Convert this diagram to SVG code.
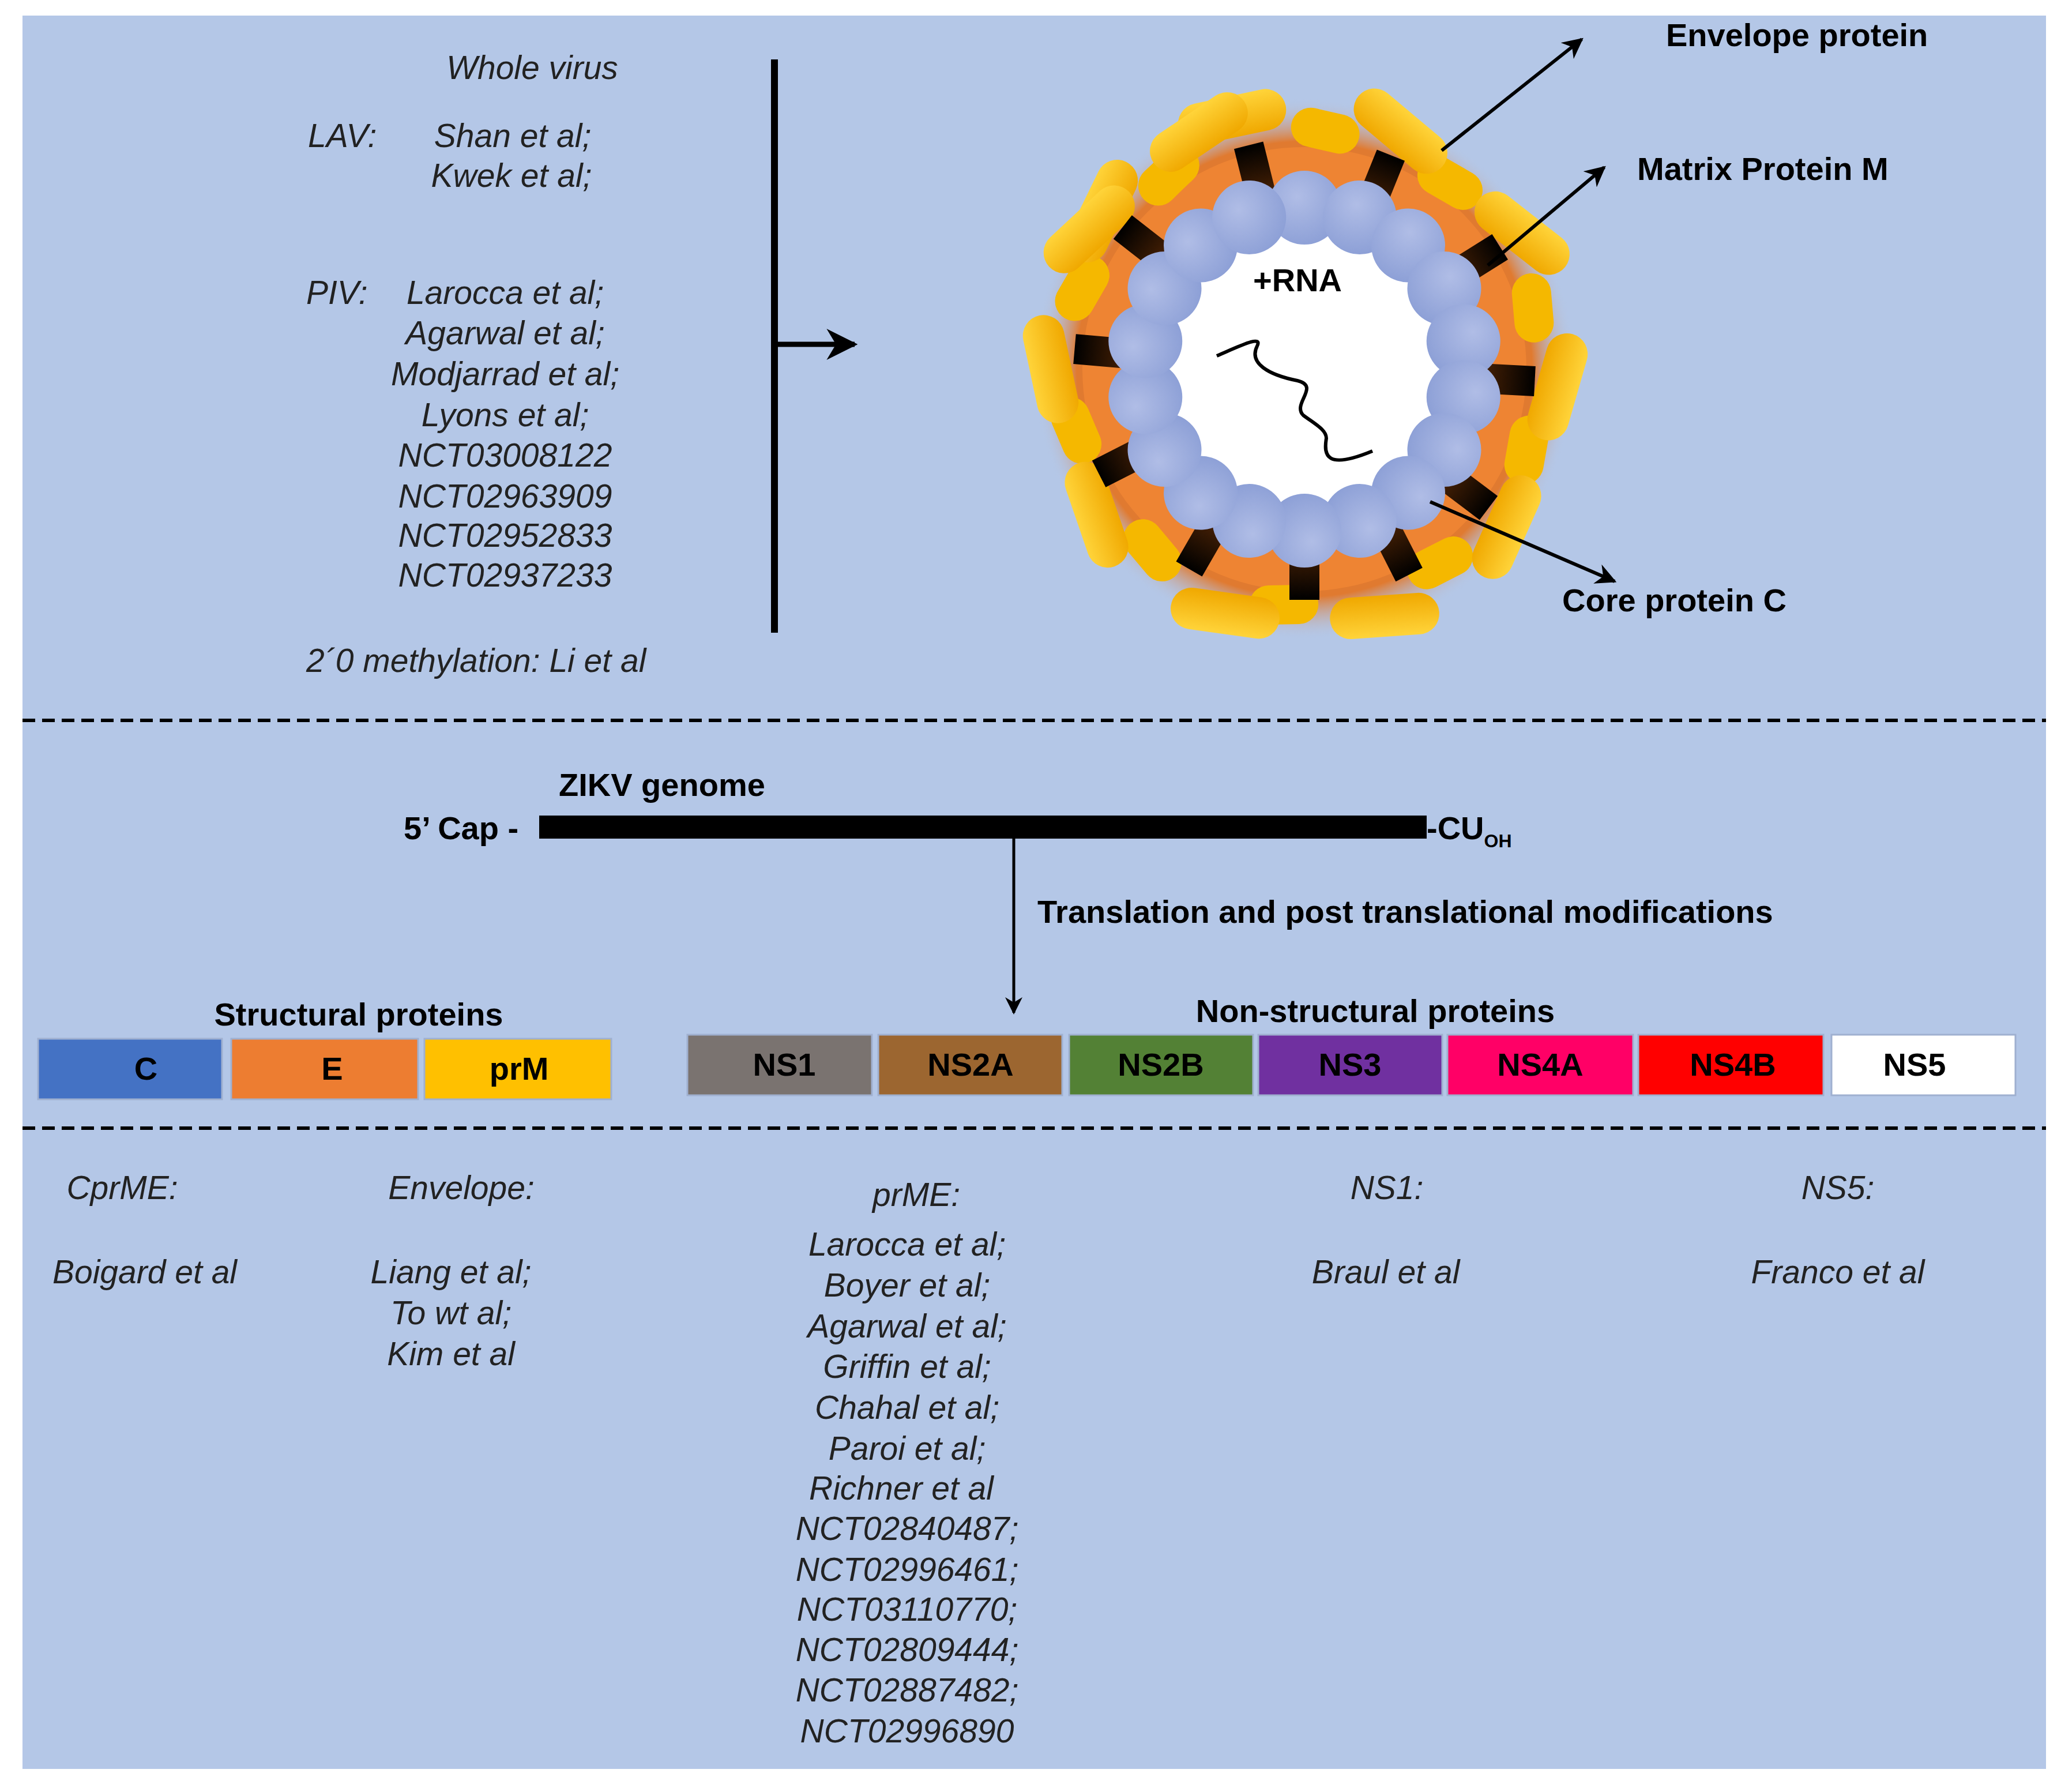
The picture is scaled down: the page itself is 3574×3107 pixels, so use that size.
<svg xmlns="http://www.w3.org/2000/svg" width="3574" height="3107" viewBox="0 0 3574 3107">
<defs>
<style>
.i{font-family:"Liberation Sans",Arial,sans-serif;font-style:italic;font-size:57px;fill:#222}
.b{font-family:"Liberation Sans",Arial,sans-serif;font-weight:bold;font-size:56px;fill:#000}
.m{text-anchor:middle}
.bx{stroke:#9fb0d0;stroke-width:3}
.dash{stroke:#000;stroke-width:6;stroke-dasharray:22 12}
</style>
<marker id="ah" viewBox="0 0 10 10" refX="9" refY="5" markerWidth="6" markerHeight="6" orient="auto"><path d="M0,0 L10,5 L0,10 L3,5 z" fill="#000"/></marker>
<radialGradient id="glow" cx="0.5" cy="0.5" r="0.5"><stop offset="0.84" stop-color="#e07a30"/><stop offset="1" stop-color="#b4c7e7" stop-opacity="0"/></radialGradient>
<radialGradient id="ball" cx="0.4" cy="0.35" r="0.7"><stop offset="0" stop-color="#b0bde6"/><stop offset="1" stop-color="#8c9fd6"/></radialGradient>
<linearGradient id="rod" x1="0" y1="0" x2="0" y2="1"><stop offset="0" stop-color="#ffd43a"/><stop offset="1" stop-color="#f0a800"/></linearGradient>
<linearGradient id="stub" x1="0" y1="0" x2="0" y2="1"><stop offset="0" stop-color="#000"/><stop offset="1" stop-color="#4a2205"/></linearGradient>
<g id="R"><rect x="-95" y="-36" width="190" height="72" rx="36" fill="url(#rod)"/></g>
<g id="r"><rect x="-60" y="-34" width="120" height="68" rx="34" fill="#f5b800"/></g>
<g id="S"><rect x="-26" y="-400" width="52" height="95" fill="url(#stub)"/></g>
<g id="B"><circle cx="0" cy="-280" r="64" fill="url(#ball)"/></g>
</defs>
<rect x="0" y="0" width="3574" height="3107" fill="#fff"/>
<rect x="39" y="27" width="3509" height="3040" fill="#b4c7e7"/>

<g id="dividers">
<line class="dash" x1="39" y1="1249" x2="3548" y2="1249"/>
<line class="dash" x1="39" y1="1956" x2="3548" y2="1956"/>
</g>

<g id="whole-virus-text">
<text class="i m" x="923" y="137">Whole virus</text>
<text class="i" x="534" y="255">LAV:</text>
<text class="i m" x="889" y="255">Shan et al;</text>
<text class="i m" x="887" y="324">Kwek et al;</text>
<text class="i" x="531" y="527">PIV:</text>
<text class="i m" x="876" y="527">Larocca et al;</text>
<text class="i m" x="876" y="597">Agarwal et al;</text>
<text class="i m" x="876" y="668">Modjarrad et al;</text>
<text class="i m" x="876" y="739">Lyons et al;</text>
<text class="i m" x="876" y="809">NCT03008122</text>
<text class="i m" x="876" y="880">NCT02963909</text>
<text class="i m" x="876" y="948">NCT02952833</text>
<text class="i m" x="876" y="1017">NCT02937233</text>
<text class="i" x="531" y="1165">2´0 methylation: Li et al</text>
</g>

<g id="virus">
<g transform="translate(2262,640)">
<circle r="470" fill="url(#glow)"/>
<circle r="385" fill="#ee8433"/>
<circle r="290" fill="#fff"/>
<use href="#r" transform="rotate(-70) translate(0,-410) rotate(10)"/>
<use href="#r" transform="rotate(-35) translate(0,-410) rotate(-10)"/>
<use href="#r" transform="rotate(5) translate(0,-415) rotate(8)"/>
<use href="#r" transform="rotate(38) translate(0,-410) rotate(-8)"/>
<use href="#r" transform="rotate(75) translate(0,-410) rotate(10)"/>
<use href="#r" transform="rotate(110) translate(0,-410) rotate(-10)"/>
<use href="#r" transform="rotate(145) translate(0,-410) rotate(8)"/>
<use href="#r" transform="rotate(185) translate(0,-410) rotate(-6)"/>
<use href="#r" transform="rotate(220) translate(0,-410) rotate(10)"/>
<use href="#r" transform="rotate(255) translate(0,-410) rotate(-8)"/>
<use href="#r" transform="rotate(290) translate(0,-410) rotate(10)"/>
<use href="#r" transform="rotate(325) translate(0,-410) rotate(-8)"/>
<use href="#R" transform="rotate(-52) translate(0,-445) rotate(-12)"/>
<use href="#R" transform="rotate(-16) translate(0,-455) rotate(4)"/>
<use href="#R" transform="rotate(22) translate(0,-445) rotate(18)"/>
<use href="#R" transform="rotate(58) translate(0,-445) rotate(-20)"/>
<use href="#R" transform="rotate(94) translate(0,-440) rotate(12)"/>
<use href="#R" transform="rotate(128) translate(0,-445) rotate(-14)"/>
<use href="#R" transform="rotate(162) translate(0,-450) rotate(14)"/>
<use href="#R" transform="rotate(198) translate(0,-445) rotate(-10)"/>
<use href="#R" transform="rotate(235) translate(0,-440) rotate(16)"/>
<use href="#R" transform="rotate(270) translate(0,-440) rotate(-12)"/>
<use href="#R" transform="rotate(303) translate(0,-445) rotate(14)"/>
<use href="#R" transform="rotate(336) translate(0,-450) rotate(-10)"/>
<use href="#S" transform="rotate(-14)"/>
<use href="#S" transform="rotate(22)"/>
<use href="#S" transform="rotate(58)"/>
<use href="#S" transform="rotate(93)"/>
<use href="#S" transform="rotate(127)"/>
<use href="#S" transform="rotate(153)"/>
<use href="#S" transform="rotate(180)"/>
<use href="#S" transform="rotate(210)"/>
<use href="#S" transform="rotate(243)"/>
<use href="#S" transform="rotate(275)"/>
<use href="#S" transform="rotate(308)"/>
<use href="#B" transform="rotate(0)"/><use href="#B" transform="rotate(20)"/><use href="#B" transform="rotate(40)"/>
<use href="#B" transform="rotate(60)"/><use href="#B" transform="rotate(80)"/><use href="#B" transform="rotate(100)"/>
<use href="#B" transform="rotate(120)"/><use href="#B" transform="rotate(140)"/><use href="#B" transform="rotate(160)"/>
<use href="#B" transform="rotate(180)"/><use href="#B" transform="rotate(200)"/><use href="#B" transform="rotate(220)"/>
<use href="#B" transform="rotate(240)"/><use href="#B" transform="rotate(260)"/><use href="#B" transform="rotate(280)"/>
<use href="#B" transform="rotate(300)"/><use href="#B" transform="rotate(320)"/><use href="#B" transform="rotate(340)"/>
</g>
<text class="b m" x="2250" y="505" font-size="52">+RNA</text>
<path d="M2110,617 C2150,600 2190,580 2180,600 C2165,630 2200,650 2250,660 C2290,670 2240,700 2260,720 C2280,735 2300,745 2300,760 C2295,790 2300,815 2380,782" fill="none" stroke="#000" stroke-width="6" stroke-linejoin="round"/>
</g>

<g id="labels">
<text class="b" x="2889" y="80" font-size="60">Envelope protein</text>
<text class="b" x="2839" y="312" font-size="60">Matrix Protein M</text>
<text class="b" x="2709" y="1060" font-size="60">Core protein C</text>
</g>

<g id="genome">
<text class="b" x="969" y="1380">ZIKV genome</text>
<text class="b" x="700" y="1455">5’ Cap -</text>
<rect x="935" y="1414" width="1539" height="40" fill="#000"/>
<text class="b" x="2474" y="1455">-CU<tspan font-size="32" dy="14">OH</tspan></text>
<text class="b" x="1799" y="1600" font-size="37">Translation and post translational modifications</text>
<text class="b m" x="622" y="1778">Structural proteins</text>
<text class="b m" x="2385" y="1772">Non-structural proteins</text>
</g>

<g id="connectors" fill="none" stroke="#000">
<line x1="1343" y1="103" x2="1343" y2="1097" style="stroke-width:12"/>
<line x1="1343" y1="597" x2="1482" y2="597" style="stroke-width:9" marker-end="url(#ah)"/>
<line x1="2500" y1="261" x2="2743" y2="68" style="stroke-width:6" marker-end="url(#ah)"/>
<line x1="2580" y1="460" x2="2782" y2="290" style="stroke-width:6" marker-end="url(#ah)"/>
<line x1="2480" y1="870" x2="2800" y2="1008" style="stroke-width:6" marker-end="url(#ah)"/>
<line x1="1758" y1="1452" x2="1758" y2="1756" style="stroke-width:5" marker-end="url(#ah)"/>
</g>

<g id="proteins">
<g id="C"><rect class="bx" x="66" y="1801" width="319" height="105" fill="#4472c4"/><text class="b m" x="253" y="1872">C</text></g>
<g id="E"><rect class="bx" x="401" y="1801" width="324" height="105" fill="#ed7d31"/><text class="b m" x="576" y="1872">E</text></g>
<g id="prM"><rect class="bx" x="736" y="1801" width="324" height="105" fill="#ffc000"/><text class="b m" x="900" y="1872">prM</text></g>
<g id="NS1"><rect class="bx" x="1192" y="1794" width="320" height="105" fill="#7a7370"/><text class="b m" x="1360" y="1865">NS1</text></g>
<g id="NS2A"><rect class="bx" x="1523" y="1794" width="319" height="105" fill="#9c6630"/><text class="b m" x="1683" y="1865">NS2A</text></g>
<g id="NS2B"><rect class="bx" x="1854" y="1794" width="319" height="105" fill="#538135"/><text class="b m" x="2013" y="1865">NS2B</text></g>
<g id="NS3"><rect class="bx" x="2182" y="1794" width="319" height="105" fill="#7030a0"/><text class="b m" x="2341" y="1865">NS3</text></g>
<g id="NS4A"><rect class="bx" x="2510" y="1794" width="322" height="105" fill="#ff0066"/><text class="b m" x="2671" y="1865">NS4A</text></g>
<g id="NS4B"><rect class="bx" x="2841" y="1794" width="321" height="105" fill="#ff0000"/><text class="b m" x="3005" y="1865">NS4B</text></g>
<g id="NS5"><rect class="bx" x="3176" y="1794" width="319" height="105" fill="#fff"/><text class="b m" x="3320" y="1865">NS5</text></g>
</g>

<g id="bottom-text">
<text class="i m" x="212" y="2079">CprME:</text>
<text class="i m" x="251" y="2225">Boigard et al</text>
<text class="i m" x="800" y="2079">Envelope:</text>
<text class="i m" x="782" y="2225">Liang et al;</text>
<text class="i m" x="782" y="2296">To wt al;</text>
<text class="i m" x="782" y="2367">Kim et al</text>
<text class="i m" x="1589" y="2091">prME:</text>
<text class="i m" x="1573" y="2177">Larocca et al;</text>
<text class="i m" x="1573" y="2248">Boyer et al;</text>
<text class="i m" x="1573" y="2319">Agarwal et al;</text>
<text class="i m" x="1573" y="2389">Griffin et al;</text>
<text class="i m" x="1573" y="2460">Chahal et al;</text>
<text class="i m" x="1573" y="2531">Paroi et al;</text>
<text class="i m" x="1563" y="2600">Richner et al</text>
<text class="i m" x="1573" y="2670">NCT02840487;</text>
<text class="i m" x="1573" y="2741">NCT02996461;</text>
<text class="i m" x="1573" y="2810">NCT03110770;</text>
<text class="i m" x="1573" y="2880">NCT02809444;</text>
<text class="i m" x="1573" y="2950">NCT02887482;</text>
<text class="i m" x="1573" y="3021">NCT02996890</text>
<text class="i m" x="2405" y="2079">NS1:</text>
<text class="i m" x="2403" y="2225">Braul et al</text>
<text class="i m" x="3187" y="2079">NS5:</text>
<text class="i m" x="3187" y="2225">Franco et al</text>
</g>
</svg>
